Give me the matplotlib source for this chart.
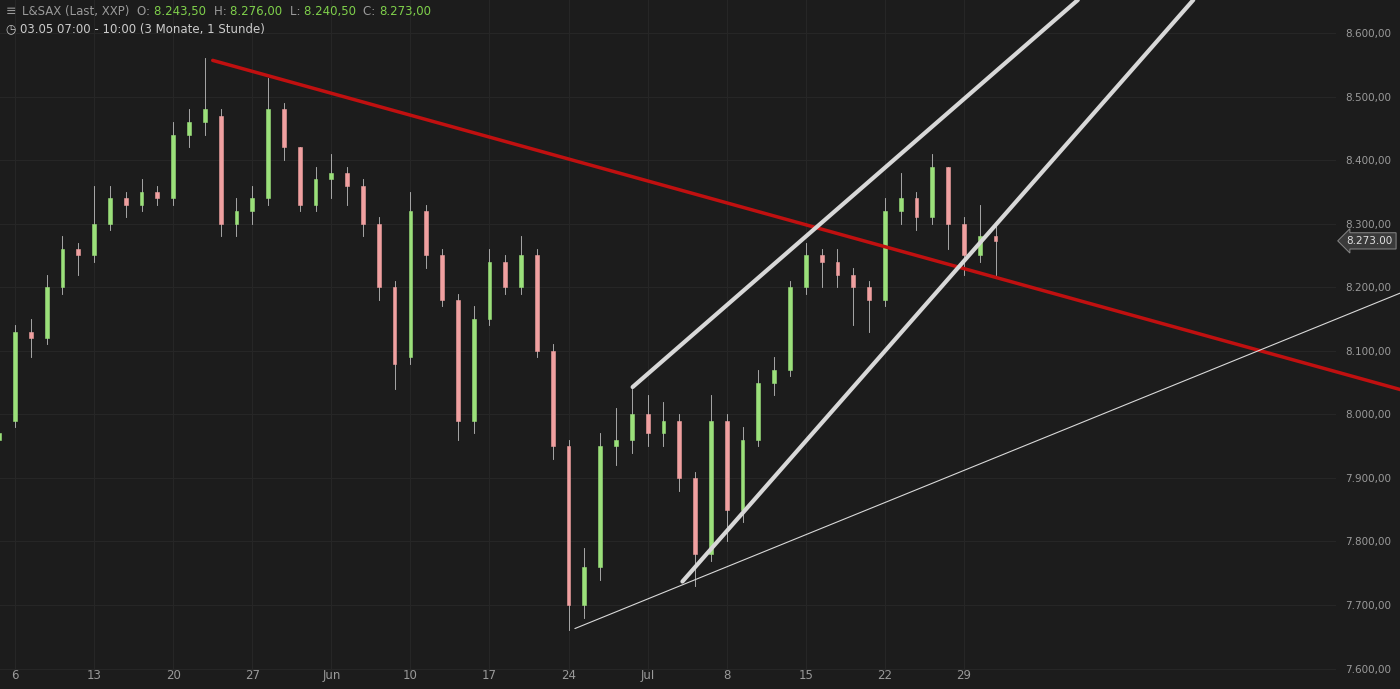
import matplotlib
matplotlib.use("Agg")
import matplotlib.pyplot as plt
from matplotlib.patches import Rectangle

# daily index (trading days from 03.05)
closes = [7970,8130,8120,8200,8260,8250,8300,8340,8330,8350,8340,8440,8460,8480,8300,8320,
          8340,8480,8420,8330,8370,8380,8360,8300,8200,8080,8320,8250,8180,7990,8150,
          8240,8200,8250,8100,7950,7700,7760,7950,7960,8000,7970,7990,7900,7780,7990,
          7850,7960,8050,8070,8200,8250,8240,8220,8200,8180,8320,8340,8310,8390,8300,
          8250,8280,8273]
opens = [7960,7990,8130,8120,8200,8260,8250,8300,8340,8330,8350,8340,8440,8460,8470,8300,
         8320,8340,8480,8420,8330,8370,8380,8360,8300,8200,8090,8320,8250,8180,7990,
         8150,8240,8200,8250,8100,7950,7700,7760,7950,7960,8000,7970,7990,7900,7780,
         7990,7850,7960,8050,8070,8200,8250,8240,8220,8200,8180,8320,8340,8310,8390,
         8300,8250,8280]
highs = [7990,8140,8150,8220,8280,8270,8360,8360,8350,8370,8360,8460,8480,8560,8480,8340,
         8360,8530,8490,8420,8390,8410,8390,8370,8310,8210,8350,8330,8260,8190,8170,
         8260,8250,8280,8260,8110,7960,7790,7970,8010,8040,8030,8020,8000,7910,8030,
         8000,7980,8070,8090,8210,8270,8260,8260,8230,8210,8340,8380,8350,8410,8390,
         8310,8330,8300]
lows = [7950,7980,8090,8110,8190,8220,8240,8290,8310,8320,8330,8330,8420,8440,8280,8280,
        8300,8330,8400,8320,8320,8340,8330,8280,8180,8040,8080,8230,8170,7960,7970,
        8140,8190,8190,8090,7930,7660,7680,7740,7920,7940,7950,7950,7880,7730,7770,
        7800,7830,7950,8030,8060,8190,8200,8200,8140,8130,8170,8300,8290,8300,8260,
        8220,8240,8220]

tick_pos = [1,6,11,16,21,26,31,36,41,46,51,56,61]
tick_labels = ["6","13","20","27","Jun","10","17","24","Jul","8","15","22","29"]
price_ticks = list(range(7600, 8601, 100))

red_line = [(13.5, 8557), (88.6, 8039)]
chan_upper = [(40.05, 8043), (68.2, 8652)]
chan_lower = [(43.2, 7737), (75.5, 8652)]
thin_line = [(36.4, 7663), (88.6, 8191)]
last_price = 8273

bg = "#1c1c1c"
fig = plt.figure(figsize=(14, 6.89), dpi=100, facecolor=bg)
ax = fig.add_axes([0, 0.025, 0.954, 0.975], facecolor=bg)
up_c, dn_c = "#9be07a", "#f0a0a0"
for i, (o, h, l, c) in enumerate(zip(opens, highs, lows, closes)):
    col = up_c if c >= o else dn_c
    ax.plot([i, i], [l, h], color="#bdbdbd", lw=0.6, zorder=2)
    ax.add_patch(Rectangle((i - 0.12, min(o, c)), 0.24, max(abs(c - o), 2),
                           facecolor=col, edgecolor=col, lw=0.4, zorder=3))

for ln, col, lw in [(red_line, "#c01010", 2.5), (chan_upper, "#d8d8d8", 3),
                    (chan_lower, "#d8d8d8", 3), (thin_line, "#d8d8d8", 0.8)]:
    ax.plot([ln[0][0], ln[1][0]], [ln[0][1], ln[1][1]], color=col, lw=lw,
            solid_capstyle="round", zorder=4, clip_on=False)

ax.set_xlim(0.05, 84.5)
ax.set_ylim(7595, 8652)
ax.set_xticks(tick_pos)
ax.set_xticklabels(tick_labels)
ax.set_yticks(price_ticks)
ax.set_yticklabels([f"{v:,.0f},00".replace(",", ".", 1) for v in price_ticks])
ax.yaxis.tick_right()
ax.tick_params(axis="y", colors="#9a9a9a", labelsize=7.5, length=0, pad=40)
ax.tick_params(axis="x", colors="#9a9a9a", labelsize=8.5, length=0, pad=-2)
for lab in ax.get_yticklabels():
    lab.set_horizontalalignment("right")
for s in ax.spines.values():
    s.set_visible(False)
ax.grid(True, color="#262626", lw=0.8)

ax.annotate(f"{last_price:,.0f},00".replace(",", "."), xy=(1.0, last_price),
            xycoords=("axes fraction", "data"), xytext=(8, 0), textcoords="offset points",
            va="center", ha="left", fontsize=7.5, color="#e0e0e0", annotation_clip=False,
            bbox=dict(boxstyle="larrow,pad=0.3", fc="#3a3a3a", ec="#888888", lw=0.7))

fig.text(0.004, 0.983, "\u2261", color="#9a9a9a", fontsize=9, va="center")
x0 = 0.016
parts = [("L&SAX (Last, XXP)  ", "#9a9a9a"), ("O: ", "#9a9a9a"), ("8.243,50  ", "#7fd04b"),
         ("H: ", "#9a9a9a"), ("8.276,00  ", "#7fd04b"), ("L: ", "#9a9a9a"),
         ("8.240,50  ", "#7fd04b"), ("C: ", "#9a9a9a"), ("8.273,00", "#7fd04b")]
renderer = fig.canvas.get_renderer()
for txt, col in parts:
    t = fig.text(x0, 0.983, txt, color=col, fontsize=8.5, va="center")
    bb = t.get_window_extent(renderer)
    x0 += bb.width / fig.bbox.width
fig.text(0.004, 0.958, "\u25f7 03.05 07:00 - 10:00 (3 Monate, 1 Stunde)", color="#cccccc",
         fontsize=8.5, va="center")

fig.savefig("out.png", facecolor=bg)
